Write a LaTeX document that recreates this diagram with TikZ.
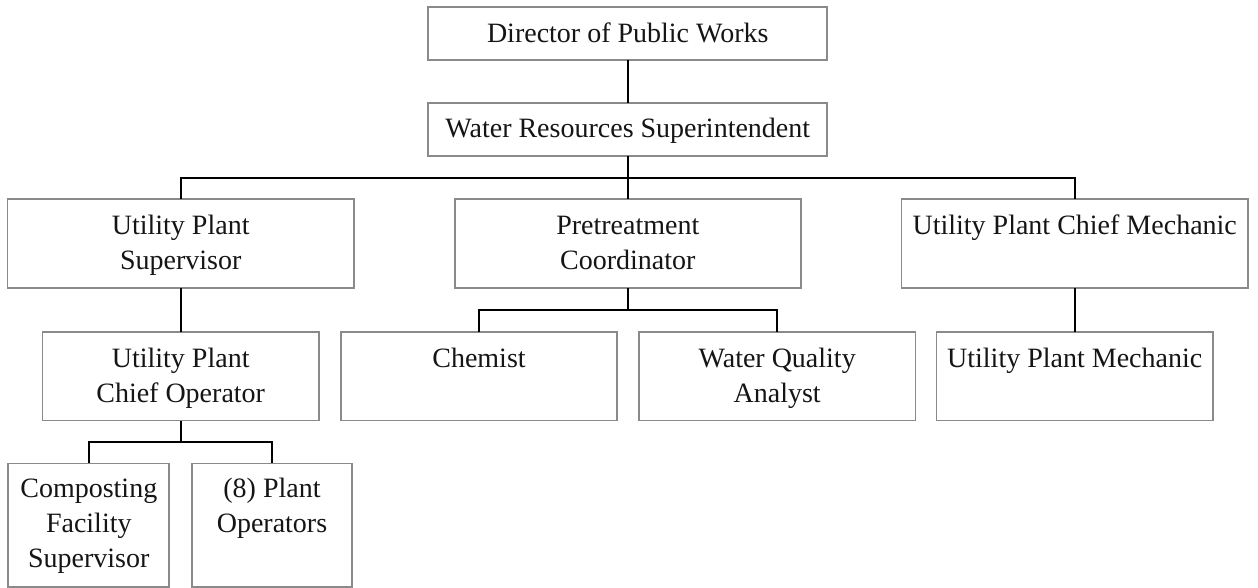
\documentclass[tikz,border=0pt]{standalone}
\usepackage{fontspec}
\setmainfont{Liberation Serif}
\definecolor{boxgray}{HTML}{8A8A8A}
\definecolor{txt}{HTML}{151515}
\begin{document}
\begin{tikzpicture}[x=1pt,y=-1pt,
  orgbox/.style={draw=boxgray, line width=1.7pt, rectangle, inner sep=0pt, outer sep=0pt, text=txt},
  conn/.style={draw=black, line width=1.8pt},
  font=\fontsize{28}{35}\selectfont]
\newcommand{\bx}[4]{\parbox[c][#2pt][t]{#1pt}{\centering\vspace*{#3pt}#4\par}}
\clip (0,0) rectangle (1258,588);
\fill[white] (0,0) rectangle (1258,588);
% row 1
\node[orgbox] (dir) at (627.8,33.4) {\bx{399}{53.3}{11}{\strut Director of Public Works}};
\node[orgbox] (wrs) at (627.8,129.2) {\bx{399}{53}{10}{\strut Water Resources Superintendent}};
% row 2
\node[orgbox] (ups) at (180.7,243.7) {\bx{346.7}{88.7}{11}{\strut Utility Plant\\\strut Supervisor}};
\node[orgbox] (pc) at (627.8,243.7) {\bx{346}{88.7}{11}{\strut Pretreatment\\\strut Coordinator}};
\node[orgbox] (ucm) at (1074.7,243.7) {\bx{346.7}{88.7}{11}{\strut Utility Plant Chief Mechanic}};
% row 3
\node[orgbox] (uco) at (180.7,376.1) {\bx{276.3}{88.8}{11}{\strut Utility Plant\\\strut Chief Operator}};
\node[orgbox] (chem) at (479,376.1) {\bx{276.6}{88.8}{11}{\strut Chemist}};
\node[orgbox] (wqa) at (777.2,376.1) {\bx{276.3}{88.8}{11}{\strut Water Quality\\\strut Analyst}};
\node[orgbox] (upm) at (1074.7,376.1) {\bx{276.3}{88.8}{11}{\strut Utility Plant Mechanic}};
% row 4
\node[orgbox] (cfs) at (88.8,525.2) {\bx{161}{123.7}{10}{\strut Composting\\\strut Facility\\\strut Supervisor}};
\node[orgbox] (po) at (272,525.2) {\bx{160.6}{123.7}{10}{\strut (8) Plant\\\strut Operators}};
% junctions
\coordinate (j1) at (627.8,177.7);
\coordinate (j2) at (627.8,310);
\coordinate (j3) at (180.7,442.3);
% connectors
\draw[conn] (dir.south) -- (wrs.north);
\draw[conn] (wrs.south) -- (pc.north);
\draw[conn] (ups.north) |- (j1) -| (ucm.north);
\draw[conn] (ups.south) -- (uco.north);
\draw[conn] (pc.south) -- (j2);
\draw[conn] (chem.north) |- (j2) -| (wqa.north);
\draw[conn] (ucm.south) -- (upm.north);
\draw[conn] (uco.south) -- (j3);
\draw[conn] (cfs.north) |- (j3) -| (po.north);
\end{tikzpicture}
\end{document}
